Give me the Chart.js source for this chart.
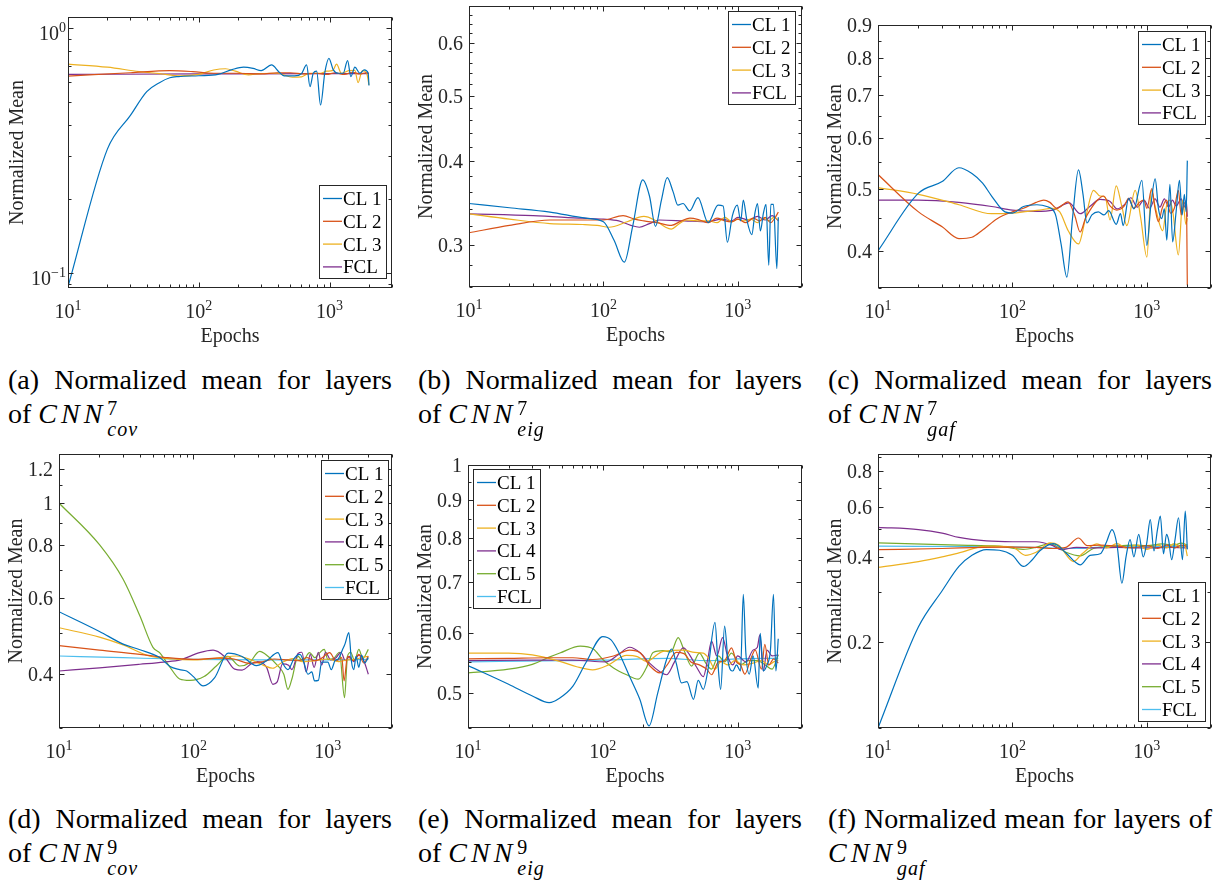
<!DOCTYPE html>
<html>
<head>
<meta charset="utf-8">
<script src="https://cdn.jsdelivr.net/npm/chart.js@4.4.1/dist/chart.umd.min.js"></script>
<style>
  body { margin: 0; background: #fff; }
  #fig { position: relative; width: 1215px; height: 880px; }
  canvas { position: absolute; }
  .cap { position: absolute; width: 384px; font: 28px "Liberation Serif", "Times New Roman", serif; line-height: 34px; color: #000; }
  .l1 { text-align: justify; text-align-last: justify; white-space: nowrap; }
  .m { font-style: italic; letter-spacing: 4px; }
  .ss { display: inline-block; position: relative; width: 36px; height: 0; }
  .ss span { position: absolute; left: 1px; font-size: 20px; line-height: 20px; }
  .sup { bottom: 5px; }
  .sub { top: -4px; font-style: italic; letter-spacing: 1px; }
</style>
</head>
<body>
<div id="fig">
  <canvas id="pa" width="405" height="350" style="left:0;top:0"></canvas>
  <canvas id="pb" width="405" height="350" style="left:405px;top:0"></canvas>
  <canvas id="pc" width="405" height="350" style="left:810px;top:0"></canvas>
  <canvas id="pd" width="405" height="350" style="left:0;top:440px"></canvas>
  <canvas id="pe" width="405" height="350" style="left:405px;top:440px"></canvas>
  <canvas id="pf" width="405" height="350" style="left:810px;top:440px"></canvas>

  <div class="cap" style="left:8px;top:363px">
    <div class="l1">(a) Normalized mean for layers</div>
    <div>of <span class="m">CNN</span><span class="ss"><span class="sup">7</span><span class="sub">cov</span></span></div>
  </div>
  <div class="cap" style="left:418px;top:363px">
    <div class="l1">(b) Normalized mean for layers</div>
    <div>of <span class="m">CNN</span><span class="ss"><span class="sup">7</span><span class="sub">eig</span></span></div>
  </div>
  <div class="cap" style="left:828px;top:363px">
    <div class="l1">(c) Normalized mean for layers</div>
    <div>of <span class="m">CNN</span><span class="ss"><span class="sup">7</span><span class="sub">gaf</span></span></div>
  </div>
  <div class="cap" style="left:8px;top:802px">
    <div class="l1">(d) Normalized mean for layers</div>
    <div>of <span class="m">CNN</span><span class="ss"><span class="sup">9</span><span class="sub">cov</span></span></div>
  </div>
  <div class="cap" style="left:418px;top:802px">
    <div class="l1">(e) Normalized mean for layers</div>
    <div>of <span class="m">CNN</span><span class="ss"><span class="sup">9</span><span class="sub">eig</span></span></div>
  </div>
  <div class="cap" style="left:828px;top:802px">
    <div class="l1">(f) Normalized mean for layers of</div>
    <div><span class="m">CNN</span><span class="ss"><span class="sup">9</span><span class="sub">gaf</span></span></div>
  </div>
</div>

<script>
// ---- tick labels ----
const xTicks = [10, 100, 1000];
const xTickExp = ['1', '2', '3'];
const xMinor = [20, 30, 40, 50, 60, 70, 80, 90, 200, 300, 400, 500, 600, 700, 800, 900, 2000, 3000];
const yTicksA = [0.1, 1];
const yLabelsA = ['\u22121', '0'];
const yTicksB = [0.3, 0.4, 0.5, 0.6];
const yTicksC = [0.4, 0.5, 0.6, 0.7, 0.8, 0.9];
const yTicksD = [0.4, 0.6, 0.8, 1, 1.2];
const yTicksE = [0.5, 0.6, 0.7, 0.8, 0.9, 1];
const yTicksF = [0.2, 0.4, 0.6, 0.8];

const labels4 = ['CL 1', 'CL 2', 'CL 3', 'FCL'];
const labels6 = ['CL 1', 'CL 2', 'CL 3', 'CL 4', 'CL 5', 'FCL'];

// ---- (a) CNN7 cov : [epoch, normalized mean] ----
const cov7_cl1 = [[10,0.088],[20,0.32],[30,0.439],[40,0.549],[50,0.597],[60,0.625],[70,0.632],[100,0.637],[140,0.645],[180,0.675],[220,0.69],[260,0.682],[300,0.668],[360,0.705],[410,0.66],[450,0.636],[540,0.636],[610,0.65],[667,0.705],[708,0.575],[750,0.652],[796,0.665],[853,0.484],[921,0.66],[988,0.75],[1067,0.673],[1165,0.652],[1271,0.652],[1372,0.734],[1455,0.632],[1561,0.69],[1705,0.652],[1840,0.673],[1973,0.652],[2000,0.581]];
const cov7_cl2 = [[10,0.635],[30,0.655],[60,0.668],[90,0.662],[130,0.652],[200,0.652],[300,0.648],[400,0.655],[500,0.655],[650,0.648],[800,0.652],[950,0.645],[1100,0.655],[1300,0.645],[1500,0.658],[1700,0.648],[1900,0.655],[2000,0.652]];
const cov7_cl3 = [[10,0.71],[20,0.69],[35,0.662],[50,0.65],[72,0.636],[100,0.645],[130,0.672],[160,0.68],[190,0.665],[240,0.642],[290,0.65],[400,0.652],[520,0.628],[610,0.63],[700,0.652],[850,0.652],[950,0.665],[1060,0.67],[1130,0.71],[1230,0.652],[1400,0.668],[1560,0.67],[1650,0.597],[1780,0.668],[1920,0.652],[2000,0.585]];
const cov7_fcl = [[10,0.645],[100,0.648],[1000,0.65],[2000,0.65]];

// ---- (b) CNN7 eig ----
const eig7_cl1 = [[10,0.346],[20,0.341],[40,0.336],[74,0.329],[100,0.325],[120,0.305],[143,0.283],[165,0.32],[196,0.375],[220,0.355],[244,0.32],[270,0.35],[298,0.378],[330,0.36],[358,0.344],[391,0.346],[438,0.3375],[505,0.353],[601,0.324],[713,0.344],[777,0.343],[836,0.303],[911,0.332],[990,0.344],[1050,0.326],[1098,0.35],[1163,0.328],[1270,0.311],[1340,0.335],[1400,0.346],[1470,0.315],[1550,0.335],[1620,0.345],[1698,0.28],[1760,0.345],[1840,0.345],[1950,0.277],[2000,0.33]];
const eig7_cl2 = [[10,0.313],[20,0.321],[40,0.327],[70,0.327],[100,0.327],[140,0.332],[170,0.328],[200,0.326],[250,0.324],[320,0.321],[380,0.326],[440,0.329],[520,0.327],[600,0.324],[700,0.329],[800,0.326],[900,0.325],[1000,0.328],[1150,0.324],[1300,0.329],[1450,0.326],[1600,0.33],[1750,0.324],[1900,0.33],[2000,0.336]];
const eig7_cl3 = [[10,0.334],[20,0.328],[40,0.323],[70,0.322],[90,0.321],[110,0.319],[150,0.325],[200,0.331],[240,0.327],[290,0.319],[320,0.317],[360,0.322],[414,0.327],[500,0.326],[600,0.326],[700,0.324],[800,0.33],[900,0.325],[1000,0.328],[1100,0.326],[1250,0.328],[1400,0.324],[1550,0.329],[1700,0.326],[1850,0.33],[2000,0.327]];
const eig7_fcl = [[10,0.334],[30,0.332],[70,0.329],[100,0.328],[130,0.326],[160,0.321],[185,0.319],[220,0.323],[260,0.327],[400,0.326],[600,0.325],[760,0.328],[900,0.326],[1000,0.33],[1200,0.327],[1400,0.331],[1600,0.327],[1800,0.332],[2000,0.326]];

// ---- (c) CNN7 gaf ----
const gaf7_cl1 = [[10,0.40],[20,0.492],[30,0.513],[40,0.539],[50,0.528],[60,0.51],[70,0.487],[88,0.46],[100,0.458],[121,0.469],[152,0.472],[180,0.469],[208,0.457],[230,0.41],[254,0.364],[280,0.45],[310,0.535],[335,0.49],[358,0.442],[390,0.455],[435,0.46],[480,0.455],[520,0.462],[592,0.44],[636,0.457],[667,0.438],[731,0.483],[800,0.465],[918,0.515],[1000,0.408],[1070,0.47],[1153,0.518],[1220,0.465],[1290,0.449],[1350,0.465],[1407,0.4155],[1484,0.508],[1555,0.413],[1650,0.46],[1747,0.515],[1830,0.455],[1900,0.49],[1960,0.46],[2000,0.553]];
const gaf7_cl2 = [[10,0.526],[20,0.46],[30,0.436],[40,0.418],[50,0.42],[60,0.431],[77,0.449],[100,0.46],[121,0.466],[150,0.476],[171,0.48],[190,0.476],[214,0.466],[259,0.477],[290,0.455],[319,0.428],[350,0.45],[378,0.463],[430,0.48],[475,0.487],[532,0.47],[597,0.463],[680,0.47],[731,0.483],[800,0.466],[880,0.476],[950,0.48],[1000,0.466],[1089,0.5],[1150,0.466],[1220,0.444],[1300,0.466],[1400,0.48],[1500,0.458],[1600,0.466],[1716,0.497],[1800,0.455],[1900,0.475],[1970,0.47],[2000,0.3535]];
const gaf7_cl3 = [[10,0.502],[20,0.49],[40,0.472],[70,0.457],[100,0.458],[130,0.461],[160,0.463],[196,0.466],[225,0.46],[260,0.43],[310,0.41],[350,0.45],[401,0.497],[448,0.487],[490,0.485],[532,0.447],[592,0.505],[650,0.47],[710,0.438],[818,0.497],[900,0.45],[1000,0.391],[1080,0.497],[1150,0.47],[1312,0.43],[1400,0.47],[1484,0.48],[1560,0.46],[1716,0.394],[1850,0.48],[1950,0.44],[2000,0.45]];
const gaf7_fcl = [[10,0.48],[20,0.48],[40,0.476],[70,0.469],[100,0.463],[150,0.461],[200,0.463],[264,0.475],[319,0.457],[380,0.47],[448,0.481],[530,0.478],[600,0.465],[680,0.472],[760,0.484],[850,0.468],[950,0.48],[1050,0.466],[1150,0.482],[1250,0.468],[1350,0.482],[1450,0.468],[1550,0.48],[1650,0.47],[1800,0.482],[1900,0.468],[1960,0.48],[2000,0.452]];

// ---- (d) CNN9 cov ----
const cov9_cl1 = [[10,0.559],[20,0.503],[30,0.47],[40,0.456],[56,0.4375],[67,0.417],[79,0.41],[89,0.407],[100,0.395],[118,0.376],[144,0.393],[181,0.448],[230,0.44],[294,0.419],[350,0.43],[425,0.449],[460,0.425],[505,0.41],[560,0.435],[620,0.445],[665,0.425],[710,0.4],[760,0.405],[796,0.386],[850,0.387],[900,0.427],[1000,0.427],[1060,0.41],[1130,0.43],[1200,0.435],[1280,0.455],[1340,0.47],[1432,0.5],[1500,0.427],[1560,0.41],[1620,0.44],[1700,0.415],[1780,0.443],[1880,0.425],[2000,0.437]];
const cov9_cl2 = [[10,0.466],[20,0.455],[40,0.445],[60,0.438],[100,0.433],[150,0.436],[200,0.434],[263,0.424],[330,0.428],[400,0.434],[500,0.432],[600,0.43],[700,0.437],[800,0.43],[900,0.436],[1030,0.449],[1150,0.43],[1270,0.437],[1320,0.386],[1400,0.44],[1550,0.43],[1700,0.445],[1850,0.425],[2000,0.44]];
const cov9_cl3 = [[10,0.513],[20,0.488],[30,0.468],[47,0.441],[70,0.434],[100,0.432],[150,0.436],[209,0.441],[280,0.43],[330,0.42],[390,0.413],[450,0.425],[550,0.435],[650,0.428],[800,0.43],[1000,0.434],[1200,0.428],[1400,0.432],[1600,0.433],[1800,0.438],[2000,0.44]];
const cov9_cl4 = [[10,0.407],[20,0.414],[40,0.422],[60,0.427],[80,0.432],[111,0.449],[140,0.455],[170,0.44],[203,0.411],[230,0.409],[270,0.423],[300,0.428],[350,0.415],[390,0.379],[420,0.384],[460,0.423],[510,0.42],[540,0.41],[600,0.447],[640,0.45],[690,0.405],[740,0.445],[790,0.415],[850,0.45],[900,0.42],[960,0.45],[1050,0.432],[1150,0.437],[1250,0.45],[1350,0.43],[1450,0.44],[1550,0.428],[1700,0.443],[1850,0.43],[2000,0.4]];
const cov9_cl5 = [[10,1.0],[20,0.8],[30,0.665],[40,0.546],[50,0.462],[56,0.449],[66,0.418],[79,0.39],[94,0.387],[120,0.395],[148,0.418],[180,0.44],[221,0.418],[260,0.425],[311,0.452],[360,0.44],[420,0.42],[470,0.4],[505,0.369],[540,0.39],[600,0.44],[650,0.43],[731,0.449],[800,0.437],[870,0.449],[939,0.457],[1000,0.433],[1100,0.435],[1220,0.45],[1330,0.353],[1400,0.44],[1480,0.45],[1580,0.43],[1700,0.457],[1820,0.435],[2000,0.457]];
const cov9_fcl = [[10,0.441],[30,0.437],[100,0.433],[300,0.432],[1000,0.432],[2000,0.433]];

// ---- (e) CNN9 eig ----
const eig9_cl1 = [[10,0.544],[20,0.514],[30,0.496],[40,0.486],[48,0.493],[60,0.511],[75,0.549],[100,0.594],[115,0.588],[130,0.568],[158,0.526],[188,0.491],[220,0.453],[255,0.5],[297,0.554],[324,0.572],[350,0.548],[383,0.516],[420,0.518],[470,0.491],[510,0.52],[556,0.506],[600,0.535],[679,0.62],[715,0.545],[748,0.506],[800,0.613],[850,0.55],[920,0.535],[980,0.545],[1050,0.535],[1101,0.675],[1150,0.565],[1220,0.53],[1300,0.56],[1420,0.508],[1470,0.6],[1550,0.535],[1650,0.545],[1750,0.57],[1843,0.675],[1920,0.535],[2000,0.59]];
const eig9_cl2 = [[10,0.555],[20,0.556],[40,0.557],[60,0.557],[84,0.554],[120,0.56],[158,0.57],[190,0.565],[222,0.544],[265,0.532],[300,0.545],[350,0.566],[400,0.564],[450,0.55],[520,0.545],[590,0.538],[640,0.529],[720,0.55],[800,0.552],[900,0.574],[980,0.55],[1050,0.545],[1130,0.53],[1250,0.555],[1350,0.57],[1500,0.538],[1590,0.58],[1700,0.545],[1850,0.555],[2000,0.548]];
const eig9_cl3 = [[10,0.565],[20,0.565],[30,0.562],[48,0.551],[64,0.542],[84,0.537],[110,0.545],[150,0.561],[180,0.559],[210,0.551],[280,0.568],[400,0.57],[480,0.566],[556,0.565],[610,0.556],[679,0.538],[750,0.55],[850,0.545],[950,0.552],[1100,0.545],[1300,0.548],[1500,0.552],[1700,0.545],[1850,0.55],[2000,0.553]];
const eig9_cl4 = [[10,0.552],[30,0.553],[60,0.553],[106,0.55],[130,0.562],[158,0.575],[190,0.565],[222,0.548],[265,0.534],[297,0.529],[340,0.55],[395,0.574],[440,0.562],[500,0.54],[556,0.526],[600,0.555],[640,0.586],[700,0.56],[773,0.592],[840,0.56],[920,0.545],[1000,0.56],[1150,0.55],[1300,0.57],[1400,0.575],[1460,0.597],[1550,0.535],[1650,0.57],[1800,0.56],[2000,0.562]];
const eig9_cl5 = [[10,0.532],[20,0.538],[30,0.546],[40,0.558],[48,0.565],[68,0.577],[85,0.572],[100,0.554],[120,0.54],[150,0.529],[183,0.522],[210,0.54],[236,0.566],[280,0.569],[320,0.567],[362,0.592],[400,0.57],[455,0.543],[520,0.565],[580,0.548],[640,0.538],[720,0.56],[800,0.55],[900,0.565],[1050,0.545],[1200,0.552],[1400,0.552],[1600,0.545],[1800,0.538],[2000,0.562]];
const eig9_fcl = [[10,0.55],[50,0.552],[100,0.553],[300,0.556],[600,0.552],[1000,0.555],[2000,0.556]];

// ---- (f) CNN9 gaf ----
const gaf9_cl1 = [[10,0.1],[20,0.227],[30,0.304],[40,0.37],[50,0.405],[64,0.424],[80,0.422],[100,0.405],[121,0.37],[140,0.39],[160,0.42],[202,0.445],[254,0.41],[290,0.385],[319,0.375],[378,0.405],[450,0.41],[500,0.45],[550,0.499],[600,0.44],[652,0.323],[700,0.4],[750,0.46],[800,0.4],[870,0.48],[940,0.4],[1000,0.45],[1060,0.541],[1130,0.42],[1200,0.5],[1260,0.556],[1330,0.41],[1400,0.48],[1450,0.46],[1530,0.391],[1620,0.46],[1720,0.549],[1840,0.391],[1930,0.579],[2000,0.425]];
const gaf9_cl2 = [[10,0.424],[30,0.428],[60,0.432],[100,0.433],[150,0.432],[200,0.428],[250,0.432],[310,0.466],[360,0.438],[450,0.44],[600,0.436],[800,0.43],[1000,0.438],[1200,0.428],[1400,0.44],[1600,0.43],[1800,0.44],[2000,0.435]];
const gaf9_cl3 = [[10,0.367],[20,0.385],[30,0.4],[40,0.413],[64,0.436],[100,0.433],[125,0.405],[150,0.415],[191,0.448],[220,0.44],[285,0.385],[330,0.41],[425,0.444],[500,0.43],[600,0.445],[700,0.43],[850,0.44],[1000,0.425],[1200,0.44],[1400,0.43],[1600,0.445],[1800,0.43],[1900,0.445],[2000,0.402]];
const gaf9_cl4 = [[10,0.508],[20,0.499],[30,0.485],[40,0.468],[64,0.455],[100,0.452],[150,0.452],[200,0.438],[230,0.424],[300,0.432],[400,0.43],[600,0.432],[1000,0.43],[1500,0.432],[2000,0.43]];
const gaf9_cl5 = [[10,0.448],[40,0.44],[80,0.436],[120,0.425],[150,0.432],[190,0.445],[250,0.415],[319,0.403],[400,0.428],[600,0.437],[800,0.44],[1000,0.438],[1300,0.444],[1600,0.44],[1800,0.447],[2000,0.44]];
const gaf9_fcl = [[10,0.436],[100,0.434],[300,0.428],[500,0.434],[1000,0.435],[2000,0.436]];

const AX = '#262626';
const FONT = '"Liberation Serif", "Times New Roman", serif';
const COLORS = ['#0072BD', '#D95319', '#EDB120', '#7E2F8E', '#77AC30', '#4DBEEE'];

function minorTicks(lo, hi, step, major) {
  const out = [];
  for (let k = Math.ceil(lo / step - 1e-6); k * step <= hi + 1e-9; k++) {
    const v = +(k * step).toFixed(4);
    if (!major.some(m => Math.abs(m - v) < 1e-9)) out.push(v);
  }
  return out;
}

const panels = {
  pa: { yMin: 0.087, yMax: 1.105, yTicks: yTicksA, pow: true, yMinor: [0.09, 0.2, 0.3, 0.4, 0.5, 0.6, 0.7, 0.8, 0.9],
        pad: { left: 68, top: 17, right: 13, bottom: 62 }, titleGap: 45, legend: [319, 185] },
  pb: { yMin: 0.26, yMax: 0.68, yTicks: yTicksB, yMinor: minorTicks(0.26, 0.68, 0.02, yTicksB),
        pad: { left: 64, top: 6, right: 8, bottom: 63 }, titleGap: 37, legend: [323, 11] },
  pc: { yMin: 0.35, yMax: 0.9, yTicks: yTicksC, yMinor: minorTicks(0.35, 0.9, 0.05, yTicksC),
        pad: { left: 68, top: 25, right: 4, bottom: 62 }, titleGap: 37, legend: [328, 31] },
  pd: { yMin: 0.3, yMax: 1.3, yTicks: yTicksD, yMinor: minorTicks(0.3, 1.3, 0.1, yTicksD),
        pad: { left: 59, top: 14, right: 13, bottom: 62 }, titleGap: 37, legend: [321, 20] },
  pe: { yMin: 0.45, yMax: 1.0, yTicks: yTicksE, yMinor: minorTicks(0.45, 1.0, 0.05, yTicksE),
        pad: { left: 63, top: 25, right: 8, bottom: 62 }, titleGap: 37, legend: [68, 29] },
  pf: { yMin: 0.1, yMax: 0.92, yTicks: yTicksF, yMinor: minorTicks(0.1, 0.92, 0.1, yTicksF),
        pad: { left: 68, top: 14, right: 4, bottom: 62 }, titleGap: 37, legend: [328, 142] }
};

// "10" with a raised exponent, like MATLAB's log tick labels
function drawPow(ctx, exp, x, y, align) {
  ctx.font = '20px ' + FONT;
  const wb = ctx.measureText('10').width;
  ctx.font = '14px ' + FONT;
  const we = ctx.measureText(exp).width;
  const left = align === 'center' ? x - (wb + we) / 2 : x - wb - we;
  ctx.textAlign = 'left';
  ctx.textBaseline = 'alphabetic';
  ctx.font = '20px ' + FONT;
  ctx.fillText('10', left, y);
  ctx.font = '14px ' + FONT;
  ctx.fillText(exp, left + wb, y - 8);
}

const matlabAxes = {
  id: 'matlabAxes',
  afterDraw(chart) {
    const p = panels[chart.canvas.id];
    const { ctx, chartArea: a, scales: { x, y } } = chart;
    const L = Math.round(a.left) + 0.5, R = Math.round(a.right) - 0.5;
    const T = Math.round(a.top) + 0.5, B = Math.round(a.bottom) - 0.5;
    ctx.save();
    ctx.strokeStyle = AX;
    ctx.lineWidth = 1;
    ctx.strokeRect(L, T, R - L, B - T);

    // inward tick marks on all four sides
    ctx.beginPath();
    const xt = (vals, len) => vals.forEach(v => {
      const px = Math.round(x.getPixelForValue(v)) + 0.5;
      ctx.moveTo(px, B); ctx.lineTo(px, B - len);
      ctx.moveTo(px, T); ctx.lineTo(px, T + len);
    });
    const yt = (vals, len) => vals.forEach(v => {
      const py = Math.round(y.getPixelForValue(v)) + 0.5;
      ctx.moveTo(L, py); ctx.lineTo(L + len, py);
      ctx.moveTo(R, py); ctx.lineTo(R - len, py);
    });
    xt(xTicks, 5); xt(xMinor, 3);
    yt(p.yTicks, 5); yt(p.yMinor, 3);
    ctx.stroke();

    // tick labels
    ctx.fillStyle = AX;
    xTicks.forEach((v, i) => drawPow(ctx, xTickExp[i], x.getPixelForValue(v), a.bottom + 30, 'center'));
    p.yTicks.forEach((v, i) => {
      const py = y.getPixelForValue(v);
      if (p.pow) {
        drawPow(ctx, yLabelsA[i], a.left - 2, py + 12, 'right');
      } else {
        ctx.font = '20px ' + FONT;
        ctx.textAlign = 'right';
        ctx.textBaseline = 'alphabetic';
        ctx.fillText(String(v), a.left - 6, py + 7);
      }
    });

    // axis titles
    ctx.font = '20px ' + FONT;
    ctx.textAlign = 'center';
    ctx.textBaseline = 'alphabetic';
    ctx.fillText('Epochs', (a.left + a.right) / 2, a.bottom + 54);
    ctx.save();
    ctx.translate(a.left - p.titleGap, (a.top + a.bottom) / 2);
    ctx.rotate(-Math.PI / 2);
    ctx.fillText('Normalized Mean', 0, 0);
    ctx.restore();

    // legend box
    const sets = chart.data.datasets;
    const [lx, ly] = p.legend;
    const lw = 67, lh = Math.round(13.5 + (sets.length - 1) * 22.8 + 11);
    ctx.fillStyle = '#fff';
    ctx.fillRect(lx, ly, lw, lh);
    ctx.strokeStyle = AX;
    ctx.lineWidth = 1;
    ctx.strokeRect(lx + 0.5, ly + 0.5, lw, lh);
    sets.forEach((ds, i) => {
      const cy = ly + 13.5 + i * 22.8;
      ctx.strokeStyle = ds.borderColor;
      ctx.lineWidth = 1.3;
      ctx.beginPath();
      ctx.moveTo(lx + 4, cy); ctx.lineTo(lx + 23, cy);
      ctx.stroke();
      ctx.fillStyle = '#000';
      ctx.font = '19px ' + FONT;
      ctx.textAlign = 'left';
      ctx.fillText(ds.label, lx + 24, cy + 6.5);
    });
    ctx.restore();
  }
};

function series(pairs, i, labels) {
  return {
    label: labels[i],
    data: pairs.map(([x, y]) => ({ x, y })),
    borderColor: COLORS[i],
    backgroundColor: COLORS[i],
    borderWidth: 1.2,
    pointRadius: 0,
    cubicInterpolationMode: 'monotone',
    fill: false
  };
}

function makeChart(id, list) {
  const p = panels[id];
  const labels = list.length === 4 ? labels4 : labels6;
  new Chart(document.getElementById(id), {
    type: 'line',
    data: { datasets: list.map((s, i) => series(s, i, labels)) },
    options: {
      responsive: false,
      animation: false,
      events: [],
      layout: { padding: p.pad },
      scales: {
        x: { type: 'logarithmic', min: 10, max: 3000, display: false },
        y: { type: 'logarithmic', min: p.yMin, max: p.yMax, display: false }
      },
      plugins: { legend: { display: false }, tooltip: { enabled: false } }
    },
    plugins: [matlabAxes]
  });
}

makeChart('pa', [cov7_cl1, cov7_cl2, cov7_cl3, cov7_fcl]);
makeChart('pb', [eig7_cl1, eig7_cl2, eig7_cl3, eig7_fcl]);
makeChart('pc', [gaf7_cl1, gaf7_cl2, gaf7_cl3, gaf7_fcl]);
makeChart('pd', [cov9_cl1, cov9_cl2, cov9_cl3, cov9_cl4, cov9_cl5, cov9_fcl]);
makeChart('pe', [eig9_cl1, eig9_cl2, eig9_cl3, eig9_cl4, eig9_cl5, eig9_fcl]);
makeChart('pf', [gaf9_cl1, gaf9_cl2, gaf9_cl3, gaf9_cl4, gaf9_cl5, gaf9_fcl]);
</script>
</body>
</html>
